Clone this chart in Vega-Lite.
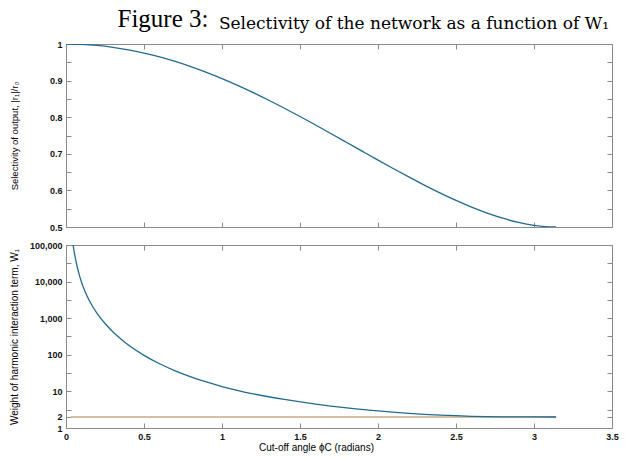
{
  "$schema": "https://vega.github.io/schema/vega-lite/v6.json",
  "padding": {"left": 8, "top": 6, "right": 6, "bottom": 0},
  "background": "white",
  "title": {"text": "Figure 3:", "anchor": "start", "frame": "bounds", "font": "Liberation Serif", "fontSize": 25, "fontWeight": "normal", "color": "#000", "baseline": "alphabetic", "dx": 109, "dy": 37.5, "offset": 0},
  "datasets": {
    "sel": [
      {"phi": 0, "S": 1}, {"phi": 0.1, "S": 0.999}, {"phi": 0.2, "S": 0.99601}, {"phi": 0.3, "S": 0.99105},
      {"phi": 0.4, "S": 0.98414}, {"phi": 0.5, "S": 0.97534}, {"phi": 0.6, "S": 0.96471}, {"phi": 0.7, "S": 0.9523},
      {"phi": 0.8, "S": 0.93822}, {"phi": 0.9, "S": 0.92255}, {"phi": 1.0, "S": 0.90539}, {"phi": 1.1, "S": 0.88687},
      {"phi": 1.2, "S": 0.86711}, {"phi": 1.3, "S": 0.84624}, {"phi": 1.4, "S": 0.82442}, {"phi": 1.5, "S": 0.8018},
      {"phi": 1.6, "S": 0.77855}, {"phi": 1.7, "S": 0.75484}, {"phi": 1.8, "S": 0.73085}, {"phi": 1.9, "S": 0.70678},
      {"phi": 2.0, "S": 0.68282}, {"phi": 2.1, "S": 0.65919}, {"phi": 2.2, "S": 0.63613}, {"phi": 2.3, "S": 0.61383},
      {"phi": 2.4, "S": 0.5926}, {"phi": 2.5, "S": 0.57268}, {"phi": 2.6, "S": 0.55437}, {"phi": 2.7, "S": 0.53801},
      {"phi": 2.8, "S": 0.52395}, {"phi": 2.9, "S": 0.51265}, {"phi": 3.0, "S": 0.5046}, {"phi": 3.1, "S": 0.50042},
      {"phi": 3.1416, "S": 0.5}
    ],
    "w": [
      {"series": "asymptote", "phi": 0.03, "W": 2}, {"series": "asymptote", "phi": 3.1416, "W": 2},
      {"series": "curve", "phi": 0.04, "W": 147310}, {"series": "curve", "phi": 0.045, "W": 103469},
      {"series": "curve", "phi": 0.05, "W": 75436}, {"series": "curve", "phi": 0.06, "W": 43665},
      {"series": "curve", "phi": 0.07, "W": 27504}, {"series": "curve", "phi": 0.08, "W": 18431},
      {"series": "curve", "phi": 0.1, "W": 9443}, {"series": "curve", "phi": 0.12, "W": 5630},
      {"series": "curve", "phi": 0.15, "W": 3000}, {"series": "curve", "phi": 0.2, "W": 1330},
      {"series": "curve", "phi": 0.25, "W": 715}, {"series": "curve", "phi": 0.3, "W": 426},
      {"series": "curve", "phi": 0.35, "W": 275}, {"series": "curve", "phi": 0.4, "W": 185},
      {"series": "curve", "phi": 0.5, "W": 96.3}, {"series": "curve", "phi": 0.6, "W": 56.8},
      {"series": "curve", "phi": 0.7, "W": 36.5}, {"series": "curve", "phi": 0.8, "W": 25.1},
      {"series": "curve", "phi": 0.9, "W": 18.1}, {"series": "curve", "phi": 1.0, "W": 13.6},
      {"series": "curve", "phi": 1.2, "W": 8.6}, {"series": "curve", "phi": 1.4, "W": 6.03},
      {"series": "curve", "phi": 1.6, "W": 4.51}, {"series": "curve", "phi": 1.8, "W": 3.55},
      {"series": "curve", "phi": 2.0, "W": 2.93}, {"series": "curve", "phi": 2.2, "W": 2.5},
      {"series": "curve", "phi": 2.4, "W": 2.24}, {"series": "curve", "phi": 2.6, "W": 2.09},
      {"series": "curve", "phi": 2.8, "W": 2.022}, {"series": "curve", "phi": 3.0, "W": 2.0015},
      {"series": "curve", "phi": 3.1416, "W": 2}
    ]
  },
  "spacing": 18,
  "bounds": "flush",
  "vconcat": [
    {
      "width": 546,
      "height": 183,
      "title": {"text": "Selectivity of the network as a function of W₁", "anchor": "end", "frame": "group", "font": "DejaVu Serif", "fontSize": 17, "fontWeight": "normal", "color": "#000", "baseline": "alphabetic", "offset": -5.5, "dx": -3},
      "data": {"name": "sel"},
      "layer": [
        {
          "mark": {"type": "line", "color": "#216a92", "strokeWidth": 1.3, "interpolate": "monotone", "clip": true},
          "encoding": {
            "x": {"field": "phi", "type": "quantitative", "scale": {"domain": [0, 3.5], "nice": false, "zero": false},
                  "axis": {"orient": "bottom", "values": [0, 0.5, 1, 1.5, 2, 2.5, 3, 3.5], "labels": false, "title": null}},
            "y": {"field": "S", "type": "quantitative", "scale": {"domain": [0.5, 1], "nice": false, "zero": false},
                  "axis": {"orient": "left", "values": [0.5, 0.55, 0.6, 0.65, 0.7, 0.75, 0.8, 0.85, 0.9, 0.95, 1],
                           "labelExpr": "round(datum.value*100) % 10 == 0 ? format(datum.value, '~g') : ''",
                           "title": "Selectivity of output, |r₁|/r₀", "titleFontSize": 9.5, "titleX": -47}}
          }
        },
        {
          "mark": {"type": "line", "opacity": 0, "clip": true},
          "encoding": {
            "x": {"field": "phi", "type": "quantitative", "axis": {"orient": "top", "values": [0, 0.5, 1, 1.5, 2, 2.5, 3, 3.5], "labels": false, "title": null}},
            "y": {"field": "S", "type": "quantitative", "axis": {"orient": "right", "values": [0.5, 0.55, 0.6, 0.65, 0.7, 0.75, 0.8, 0.85, 0.9, 0.95, 1], "labels": false, "title": null}}
          }
        }
      ],
      "resolve": {"axis": {"x": "independent", "y": "independent"}}
    },
    {
      "width": 546,
      "height": 183,
      "data": {"name": "w"},
      "layer": [
        {
          "mark": {"type": "line", "strokeWidth": 1.3, "interpolate": "monotone", "clip": true},
          "encoding": {
            "x": {"field": "phi", "type": "quantitative", "scale": {"domain": [0, 3.5], "nice": false, "zero": false},
                  "axis": {"orient": "bottom", "values": [0, 0.5, 1, 1.5, 2, 2.5, 3, 3.5], "format": "~g", "labelFlush": false,
                           "title": "Cut-off angle ϕC (radians)", "titlePadding": 1, "titleX": 250}},
            "y": {"field": "W", "type": "quantitative", "scale": {"type": "log", "domain": [1, 100000], "nice": false},
                  "axis": {"orient": "left", "values": [1, 2, 3.1623, 10, 31.623, 100, 316.23, 1000, 3162.3, 10000, 31623, 100000],
                           "labelExpr": "indexof([1, 2, 10, 100, 1000, 10000, 100000], datum.value) >= 0 ? format(datum.value, ',') : ''",
                           "title": "Weight of harmonic interaction term, W₁", "titleX": -47}},
            "color": {"field": "series", "type": "nominal", "scale": {"domain": ["asymptote", "curve"], "range": ["#c8ad84", "#216a92"]}, "legend": null},
            "order": {"field": "series", "sort": "ascending"}
          }
        },
        {
          "mark": {"type": "line", "opacity": 0, "clip": true},
          "encoding": {
            "x": {"field": "phi", "type": "quantitative", "axis": {"orient": "top", "values": [0, 0.5, 1, 1.5, 2, 2.5, 3, 3.5], "labels": false, "title": null}},
            "y": {"field": "W", "type": "quantitative", "axis": {"orient": "right", "values": [1, 2, 3.1623, 10, 31.623, 100, 316.23, 1000, 3162.3, 10000, 31623, 100000], "labels": false, "title": null}}
          }
        }
      ],
      "resolve": {"axis": {"x": "independent", "y": "independent"}}
    }
  ],
  "config": {
    "view": {"stroke": "#8a8a8a", "strokeWidth": 1},
    "axis": {
      "domain": false,
      "grid": false,
      "minExtent": 0,
      "tickColor": "#8a8a8a",
      "tickSize": -5,
      "labelPadding": 9,
      "labelFont": "Liberation Sans",
      "labelFontSize": 9,
      "labelFontWeight": "bold",
      "labelColor": "#111",
      "titleFont": "Liberation Sans",
      "titleFontSize": 10,
      "titleFontWeight": "normal",
      "titleColor": "#000"
    }
  }
}
